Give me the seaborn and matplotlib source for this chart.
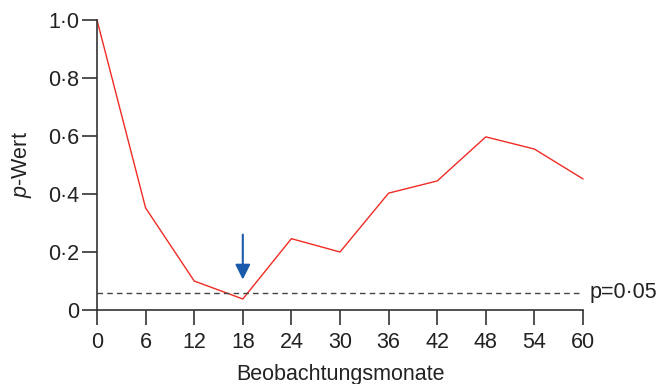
import pandas as pd
import matplotlib.pyplot as plt
import seaborn as sns

# data
months = [0, 6, 12, 18, 24, 30, 36, 42, 48, 54, 60]
p_values = [1.0, 0.352, 0.10, 0.038, 0.246, 0.20, 0.403, 0.445, 0.597, 0.555, 0.452]
y_ticks = [0, 0.2, 0.4, 0.6, 0.8, 1.0]
y_tick_labels = ["0", "0·2", "0·4", "0·6", "0·8", "1·0"]
threshold = 0.059
arrow_x = 18
arrow_top, arrow_tip = 0.26, 0.105

df = pd.DataFrame({"month": months, "p": p_values})

sns.set_style("ticks")
plt.rcParams['font.family'] = ['Liberation Sans', 'DejaVu Sans']
plt.rcParams['mathtext.fontset'] = 'custom'
plt.rcParams['mathtext.it'] = 'Liberation Sans:italic'
plt.rcParams['mathtext.rm'] = 'Liberation Sans'

fs = 15.5

fig = plt.figure(figsize=(6.58, 3.84), dpi=100)
ax = fig.add_axes([97 / 658, 74 / 384, 486 / 658, 290 / 384])

sns.lineplot(data=df, x="month", y="p", ax=ax, color="#ee2c24", linewidth=1.0, clip_on=False)

# p=0.05 reference line
ax.axhline(threshold, color="#444444", linestyle=(0, (4, 3)), linewidth=1.0)
ax.text(60.8, threshold, "p=0·05", fontsize=fs, va="center", ha="left", color="#222222")

# arrow at month 18
ax.annotate("", xy=(arrow_x, arrow_tip), xytext=(arrow_x, arrow_top),
            arrowprops=dict(arrowstyle="-|>,head_length=0.9,head_width=0.45",
                            color="#1a5aab", lw=1.5, shrinkA=0, shrinkB=0))

ax.set_xlim(0, 60)
ax.set_ylim(0, 1.0)
ax.set_xticks(months)
ax.set_yticks(y_ticks)
ax.set_yticklabels(y_tick_labels)
ax.tick_params(axis="both", labelsize=fs, length=10.5, width=1.2, color="#333333",
               labelcolor="#222222", direction="out")
ax.tick_params(axis="y", pad=2.5)
ax.tick_params(axis="x", pad=5)

sns.despine(ax=ax)
for s in ["left", "bottom"]:
    ax.spines[s].set_color("#333333")
    ax.spines[s].set_linewidth(1.2)

ax.set_xlabel("Beobachtungsmonate", fontsize=fs, color="#222222", labelpad=8)
ax.set_ylabel("$p$-Wert", fontsize=fs, color="#222222", labelpad=10)

plt.savefig("out.png", dpi=100)
